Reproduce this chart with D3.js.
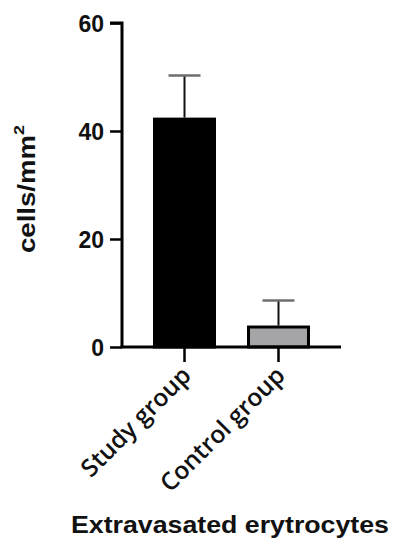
<!DOCTYPE html>
<html>
<head>
<meta charset="utf-8">
<script src="https://cdn.jsdelivr.net/npm/d3@7"></script>
<style>
  html, body { margin: 0; padding: 0; background: #fff; }
  svg { display: block; }
</style>
</head>
<body>
<svg id="chart" width="402" height="550"></svg>
<script>
const categories = ["Study group", "Control group"];
const means = [42.2, 3.7];
const sds = [8.1, 4.9];
const yTicks = [0, 20, 40, 60];
const fills = ["#000000", "#a5a5a8"];
const yLabel = "cells/mm";
const xTitle = "Extravasated erytrocytes";

const svg = d3.select("#chart");
const x0 = 122, x1 = 341, yTop = 23, yBottom = 347;

const y = d3.scaleLinear().domain([0, 60]).range([yBottom, yTop]);
const x = d3.scaleBand().domain(categories).range([x0, x1]).paddingInner(0.33).paddingOuter(0.33);

// bars
svg.selectAll("rect.bar").data(categories).enter().append("rect")
  .attr("class", "bar")
  .attr("x", d => x(d) + 1.5)
  .attr("width", x.bandwidth() - 3)
  .attr("y", (d, i) => y(means[i]))
  .attr("height", (d, i) => y(0) - y(means[i]))
  .attr("fill", (d, i) => fills[i])
  .attr("stroke", "#000")
  .attr("stroke-width", 3);

// error bars
const capW = 32;
categories.forEach((c, i) => {
  const cx = x(c) + x.bandwidth() / 2;
  svg.append("line")
    .attr("x1", cx).attr("x2", cx)
    .attr("y1", y(means[i]) - 1.5).attr("y2", y(means[i] + sds[i]))
    .attr("stroke", "#111").attr("stroke-width", 2);
  svg.append("line")
    .attr("x1", cx - capW / 2).attr("x2", cx + capW / 2)
    .attr("y1", y(means[i] + sds[i])).attr("y2", y(means[i] + sds[i]))
    .attr("stroke", "#6e6e6e").attr("stroke-width", 2.5);
});

// y axis
const yAxis = d3.axisLeft(y).tickValues(yTicks).tickSize(12).tickPadding(6).tickSizeOuter(12);
const gy = svg.append("g").attr("transform", `translate(${x0},0)`).call(yAxis);
gy.select(".domain").attr("stroke", "#000").attr("stroke-width", 3)
  .attr("d", `M-12,${yTop}H0V${yBottom}`);
gy.selectAll(".tick line").attr("stroke", "#000").attr("stroke-width", 2.5);
gy.selectAll(".tick text")
  .attr("font-family", "Liberation Sans, Arial, sans-serif")
  .attr("font-weight", "bold").attr("font-size", 23).attr("fill", "#111")
  .attr("dy", "0.36em");

// x axis
const xAxis = d3.axisBottom(x).tickSize(15).tickSizeOuter(0).tickFormat("");
const gx = svg.append("g").attr("transform", `translate(0,${yBottom})`).call(xAxis);
gx.select(".domain").attr("stroke", "#000").attr("stroke-width", 3)
  .attr("d", `M${x0 - 1.5},0H${x1}`);
gx.selectAll(".tick line").attr("stroke", "#000").attr("stroke-width", 2.5);

// x tick labels rotated
svg.selectAll("text.xl").data(categories).enter().append("text")
  .attr("class", "xl")
  .attr("transform", d => `translate(${x(d) + x.bandwidth() / 2 + 8},${yBottom + 30}) rotate(-45)`)
  .attr("text-anchor", "end")
  .attr("font-family", "Open Sans, sans-serif")
  .attr("font-weight", 600)
  .attr("font-size", 24.5)
  .attr("fill", "#111")
  .text(d => d);

// y label
const yl = svg.append("text")
  .attr("transform", `translate(35,${(yTop + yBottom) / 2 + 4}) rotate(-90) scale(1.2,1)`)
  .attr("text-anchor", "middle")
  .attr("font-family", "Liberation Sans, Arial, sans-serif")
  .attr("font-weight", "bold").attr("font-size", 23).attr("fill", "#111");
yl.append("tspan").text(yLabel);
yl.append("tspan").attr("font-size", 15).attr("dy", "-0.75em").text("2");

// x title
svg.append("text")
  .attr("x", 230).attr("y", 533)
  .attr("text-anchor", "middle")
  .attr("font-family", "Liberation Sans, Arial, sans-serif")
  .attr("font-weight", "bold").attr("font-size", 24).attr("fill", "#111")
  .attr("textLength", 318).attr("lengthAdjust", "spacingAndGlyphs")
  .text(xTitle);
</script>
</body>
</html>
